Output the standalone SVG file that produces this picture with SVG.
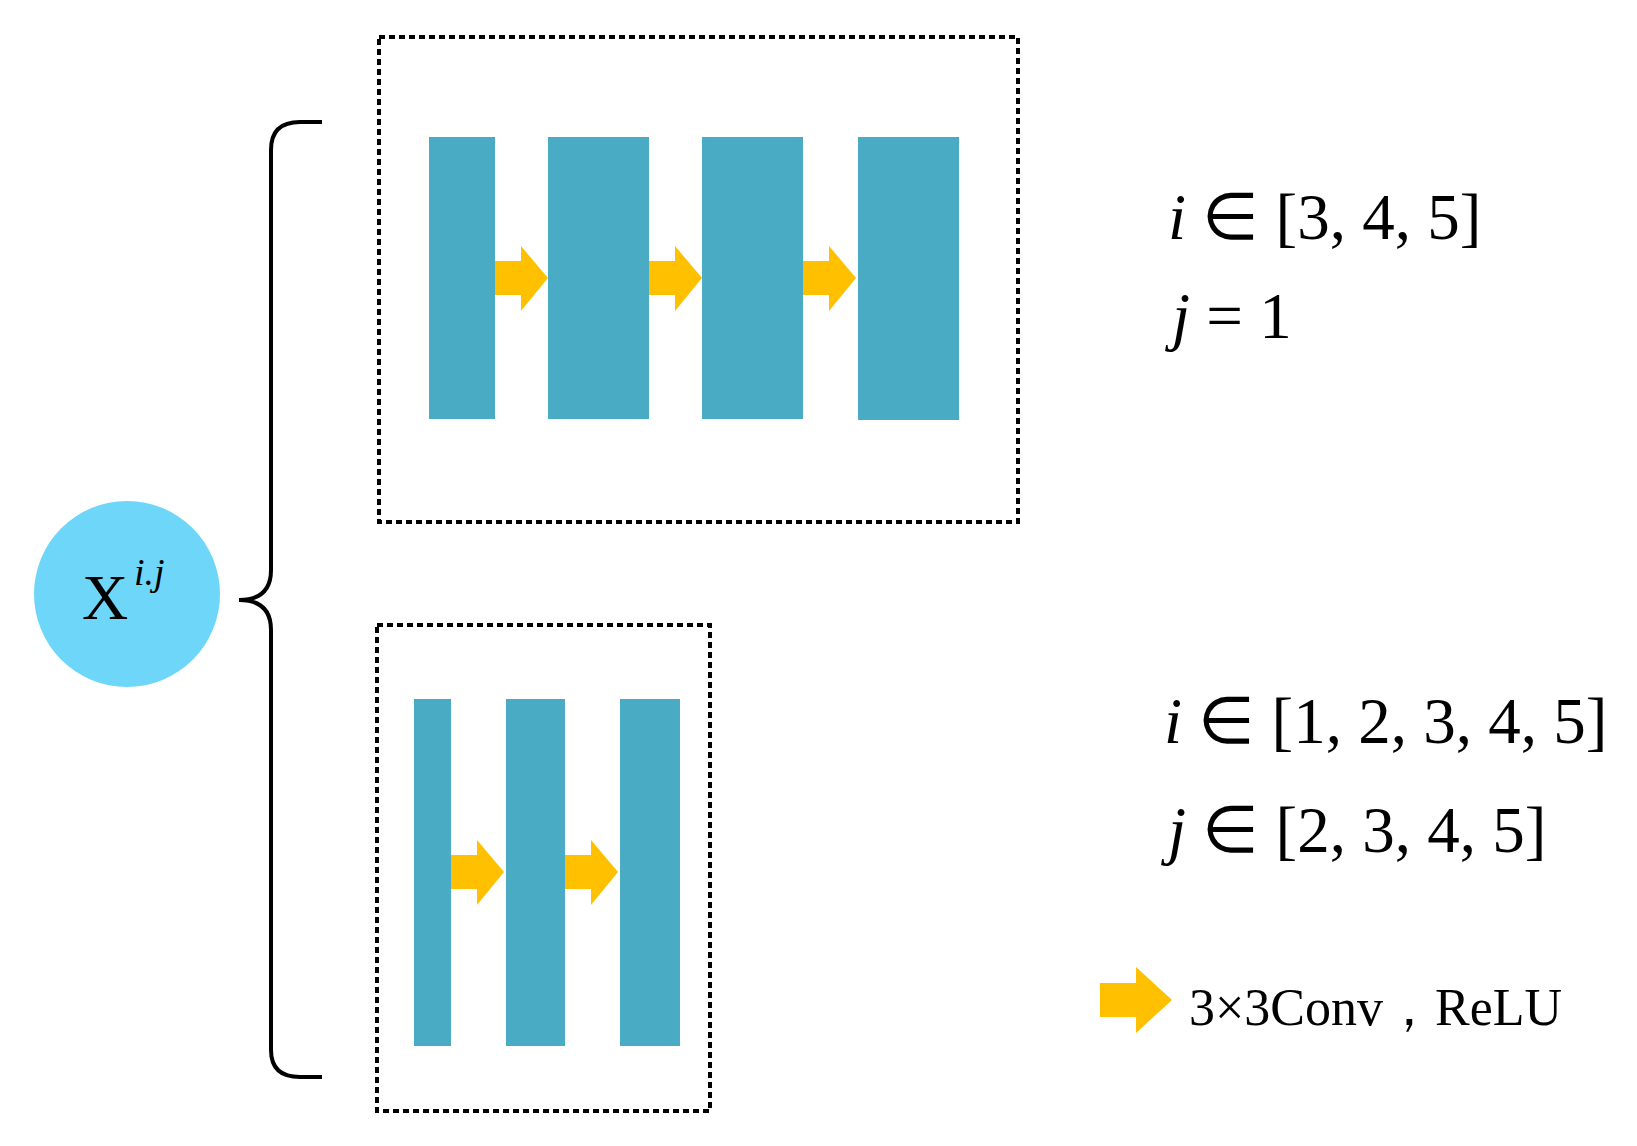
<svg xmlns="http://www.w3.org/2000/svg" width="1637" height="1146" viewBox="0 0 1637 1146">
<style>
.bar{fill:#4aabc4}
.arr{fill:#ffc000}
.box{fill:none;stroke:#000;stroke-width:4;stroke-dasharray:6 4}
.t{font-family:"Liberation Serif",serif;fill:#000}
.i{font-style:italic}
</style>
<defs><polygon id="ar" points="0,-17 26,-17 26,-32 53,0 26,33 26,17 0,17"/></defs>
<rect width="1637" height="1146" fill="#fff"/>
<g id="node-x"><circle cx="127" cy="594" r="93" fill="#6dd6f9"/>
<text class="t" x="82" y="619" font-size="64">X</text><text class="t i" x="134" y="585" font-size="38">i.j</text></g>
<g id="brace"><path d="M322,122 H300 Q271,122 271,150 V570 Q271,600 239,600 Q271,600 271,630 V1050 Q271,1077 300,1077 H322" fill="none" stroke="#000" stroke-width="4"/></g>
<g id="top-block"><rect class="box" x="379" y="37" width="639" height="485"/>
<rect class="bar" x="429" y="137" width="66" height="282"/>
<rect class="bar" x="548" y="137" width="101" height="282"/>
<rect class="bar" x="702" y="137" width="101" height="282"/>
<rect class="bar" x="858" y="137" width="101" height="283"/></g>
<g id="bottom-block"><rect class="box" x="377" y="625" width="333" height="486"/>
<rect class="bar" x="414" y="699" width="37" height="347"/>
<rect class="bar" x="506" y="699" width="59" height="347"/>
<rect class="bar" x="620" y="699" width="60" height="347"/></g>
<g id="connectors" class="arr">
<use href="#ar" x="495" y="278"/><use href="#ar" x="649" y="278"/><use href="#ar" x="803" y="278"/>
<use href="#ar" x="451" y="872"/><use href="#ar" x="565" y="872"/></g>
<g id="labels" font-size="65">
<text class="t" x="1168" y="239"><tspan class="i">i</tspan> ∈ [3, 4, 5]</text>
<text class="t" x="1172" y="338"><tspan class="i">j</tspan> = 1</text>
<text class="t" x="1164" y="743"><tspan class="i">i</tspan> ∈ [1, 2, 3, 4, 5]</text>
<text class="t" x="1168" y="852"><tspan class="i">j</tspan> ∈ [2, 3, 4, 5]</text></g>
<g id="legend"><polygon class="arr" points="1100,983 1136,983 1136,967 1172,1000 1136,1033 1136,1017 1100,1017"/>
<text class="t" x="1189" y="1025" font-size="52">3×3Conv，ReLU</text></g>
</svg>
